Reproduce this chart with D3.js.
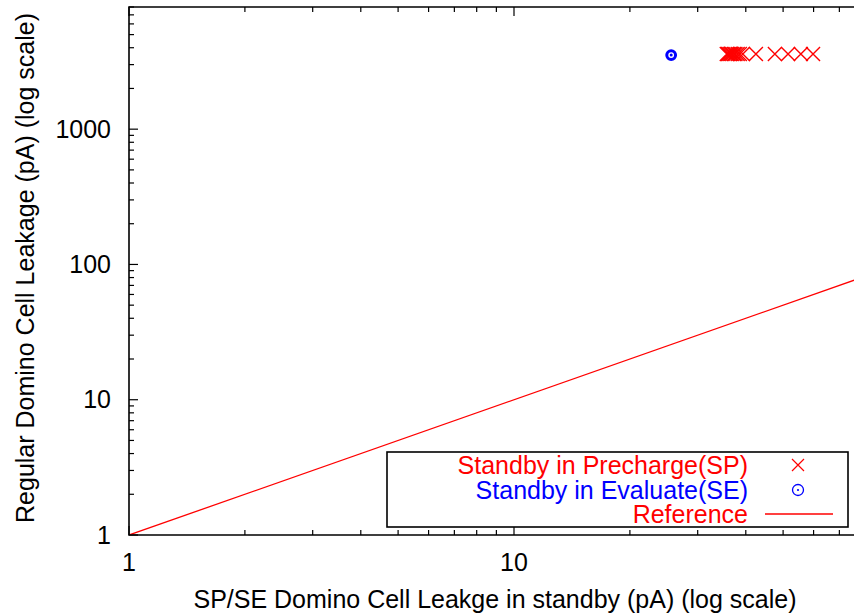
<!DOCTYPE html>
<html><head><meta charset="utf-8">
<script src="https://cdn.jsdelivr.net/npm/d3@7"></script>
<style>body{margin:0;background:#fff}svg{display:block}text{font-family:"Liberation Sans",Arial,sans-serif;}</style>
</head><body><svg id="c" width="854" height="614"></svg>
<script>
// ---- data ----
const spX = [35.7, 36.0, 36.3, 36.6, 36.9, 37.3, 37.6, 38.1, 38.6, 39.3, 42.5, 47.6, 51.5, 55.6, 59.8];
const spY = [3600, 3590, 3600, 3610, 3590, 3600, 3600, 3590, 3600, 3600, 3600, 3600, 3600, 3600, 3600];
const seX = [25.6];
const seY = [3530];
const refX = [1, 100];
const xTickLabels = ["1", "10", "100"];
const yTickLabels = ["1", "10", "100", "1000"];
const legendLabels = ["Standby in Precharge(SP)", "Standby in Evaluate(SE)", "Reference"];
const xTitle = "SP/SE Domino Cell Leakge in standby (pA) (log scale)";
const yTitle = "Regular Domino Cell Leakage (pA) (log scale)";

// ---- layout ----
const svg = d3.select("#c");
const L = 129, B = 535, T = 7;
const x = d3.scaleLog().domain([1, 100]).range([L, L + 770]);
const y = d3.scaleLog().domain([1, 8000]).range([B, T]);
const FS = 25;

svg.append("defs").append("clipPath").attr("id","clip")
  .append("rect").attr("x", L).attr("y", T).attr("width", 770).attr("height", B - T);

// minor/major ticks
const xMinor = [], yMinor = [];
[1, 10].forEach(d => { for (let k = 2; k <= 9; k++) xMinor.push(d * k); });
[1, 10, 100, 1000].forEach(d => { for (let k = 2; k <= 9; k++) if (d * k <= 8000) yMinor.push(d * k); });
const xMajor = xTickLabels.map(Number), yMajor = yTickLabels.map(Number);

const g = svg.append("g");
xMajor.forEach(v => {
  g.append("line").attr("x1", x(v)).attr("x2", x(v)).attr("y1", B).attr("y2", B - 9).attr("stroke", "#000").attr("stroke-width", 1.2);
  g.append("line").attr("x1", x(v)).attr("x2", x(v)).attr("y1", T).attr("y2", T + 9).attr("stroke", "#000").attr("stroke-width", 1.2);
});
xMinor.forEach(v => {
  g.append("line").attr("x1", x(v)).attr("x2", x(v)).attr("y1", B).attr("y2", B - 5).attr("stroke", "#000").attr("stroke-width", 1.2);
  g.append("line").attr("x1", x(v)).attr("x2", x(v)).attr("y1", T).attr("y2", T + 5).attr("stroke", "#000").attr("stroke-width", 1.2);
});
yMajor.forEach(v => {
  g.append("line").attr("x1", L).attr("x2", L + 9).attr("y1", y(v)).attr("y2", y(v)).attr("stroke", "#000").attr("stroke-width", 1.2);
});
yMinor.forEach(v => {
  g.append("line").attr("x1", L).attr("x2", L + 5).attr("y1", y(v)).attr("y2", y(v)).attr("stroke", "#000").attr("stroke-width", 1.2);
});

// reference line
svg.append("line").attr("clip-path", "url(#clip)")
  .attr("x1", x(refX[0])).attr("y1", y(refX[0])).attr("x2", x(refX[1])).attr("y2", y(refX[1]))
  .attr("stroke", "#f00").attr("stroke-width", 1.3);

// border (left, bottom, top)
svg.append("path").attr("d", `M${L + 770},${T}H${L}V${B}H${L + 770}`)
  .attr("fill", "none").attr("stroke", "#000").attr("stroke-width", 1.6);

// tick labels
xMajor.forEach((v, i) => {
  if (x(v) < 854) svg.append("text").attr("x", x(v)).attr("y", 562).attr("dy", "0.35em")
    .attr("text-anchor", "middle").attr("font-size", FS).text(xTickLabels[i]);
});
yMajor.forEach((v, i) => {
  svg.append("text").attr("x", 111).attr("y", y(v)).attr("dy", "0.35em")
    .attr("text-anchor", "end").attr("font-size", FS).text(yTickLabels[i]);
});
// titles
svg.append("text").attr("x", 495).attr("y", 599).attr("dy", "0.35em").attr("text-anchor", "middle")
  .attr("font-size", FS).text(xTitle);
svg.append("text").attr("transform", "translate(25,268) rotate(-90)").attr("dy", "0.35em")
  .attr("text-anchor", "middle").attr("font-size", FS).text(yTitle);

// data: crosses
const cross = (sel, cx, cy, h, sw) => sel.append("path")
  .attr("d", `M${cx - h},${cy - h}L${cx + h},${cy + h}M${cx - h},${cy + h}L${cx + h},${cy - h}`)
  .attr("stroke", "#f00").attr("stroke-width", sw).attr("fill", "none");
const dg = svg.append("g").attr("clip-path", "url(#clip)");
spX.forEach((v, i) => cross(dg, x(v), y(spY[i]), 7, 1.4));
// circles
const circ = (sel, cx, cy, r, sw, dr) => {
  sel.append("circle").attr("cx", cx).attr("cy", cy).attr("r", r).attr("fill", "none").attr("stroke", "#00f").attr("stroke-width", sw);
  sel.append("circle").attr("cx", cx).attr("cy", cy).attr("r", dr).attr("fill", "#00f");
};
seX.forEach((v, i) => circ(dg, x(v), y(seY[i]), 4.4, 3, 1.5));

// legend
const lg = svg.append("g");
lg.append("rect").attr("x", 387).attr("y", 452).attr("width", 461).attr("height", 75)
  .attr("fill", "#fff").attr("stroke", "#000").attr("stroke-width", 1.6);
const rows = [465, 490, 514];
const cols = ["#f00", "#00f", "#f00"];
legendLabels.forEach((t, i) => {
  lg.append("text").attr("x", 748).attr("y", rows[i]).attr("dy", "0.35em").attr("text-anchor", "end")
    .attr("font-size", FS).attr("fill", cols[i]).text(t);
});
cross(lg, 798, rows[0], 6, 1.2);
circ(lg, 798, rows[1], 5.5, 1.3, 1.1);
lg.append("line").attr("x1", 765).attr("x2", 833).attr("y1", rows[2]).attr("y2", rows[2])
  .attr("stroke", "#f00").attr("stroke-width", 1.3);
</script></body></html>
